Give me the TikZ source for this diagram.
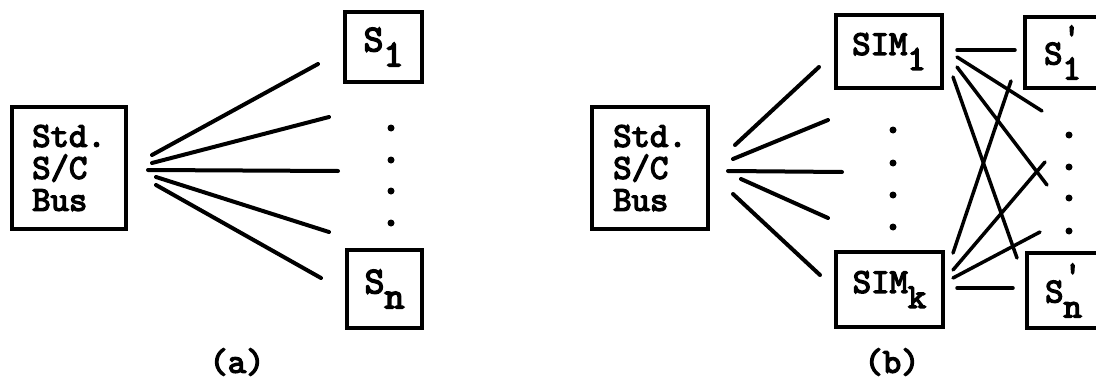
\documentclass[tikz,border=0pt]{standalone}
\usepackage{fontspec}
\newfontfamily\tw{lmmono10-regular.otf}[FakeBold=3.8]
\begin{document}
\begin{tikzpicture}[x=1pt,y=-1pt,
  tt/.style={font=\tw\fontsize{35}{32}\selectfont},
  box/.style={tt,draw,line width=3.2pt,inner sep=0pt},
  bigtt/.style={font=\tw\fontsize{38}{32}\selectfont},
  wire/.style={line width=4pt,line cap=round},
  dotc/.style={circle,fill,inner sep=0pt,minimum size=7pt}]
\useasboundingbox (0,0) rectangle (1096,380);
\clip (0,0) rectangle (1096,380);

% ---------- (a) ----------
\node[box,minimum width=114pt,minimum height=122pt,align=left] (busa) at (69,168) {Std.\\S/C\\Bus};
\node[box,bigtt,minimum width=77pt,minimum height=70pt] (s1a) at (383.5,47) {S\raisebox{-15pt}{1}};
\node[box,bigtt,minimum width=75pt,minimum height=78pt] (sna) at (384.5,289) {S\raisebox{-15pt}{n}};
\foreach \y [count=\i] in {128,160,191,223} \node[dotc] (da\i) at (391,\y) {};

\coordinate (a1s) at (152,155); \coordinate (a1e) at (318,64);
\coordinate (a2s) at (152,163); \coordinate (a2e) at (329,117);
\coordinate (a3s) at (148,170); \coordinate (a3e) at (338,171);
\coordinate (a4s) at (156,177); \coordinate (a4e) at (329,232);
\coordinate (a5s) at (156,185); \coordinate (a5e) at (321,278);
\foreach \i in {1,...,5} \draw[wire] (a\i s) -- (a\i e);

\node[tt] (la) at (237,362) {(a)};

% ---------- (b) ----------
\node[box,minimum width=116pt,minimum height=122pt,align=left] (busb) at (650,168) {Std.\\S/C\\Bus};
\node[box,minimum width=106pt,minimum height=73pt] (sim1) at (889,51.5) {SIM\raisebox{-15pt}{1}};
\node[box,minimum width=107pt,minimum height=75pt] (simk) at (889.5,289.5) {SIM\raisebox{-15pt}{k}};
\node[box,minimum width=75pt,minimum height=71pt] (s1b) at (1062.5,52.5) {S\rlap{\raisebox{17pt}{'}}\raisebox{-15pt}{1}};
\node[box,minimum width=73pt,minimum height=75pt] (snb) at (1063.5,290.5) {S\rlap{\raisebox{17pt}{'}}\raisebox{-15pt}{n}};
\foreach \y [count=\i] in {130,163,195,227} \node[dotc] (dm\i) at (893,\y) {};
\foreach \y [count=\i] in {135,167,198,231} \node[dotc] (dr\i) at (1069,\y) {};

\coordinate (b1s) at (735,145); \coordinate (b1e) at (819,67);
\coordinate (b2s) at (733,159); \coordinate (b2e) at (828,120);
\coordinate (b3s) at (728,171); \coordinate (b3e) at (842,172);
\coordinate (b4s) at (741,179); \coordinate (b4e) at (828,218);
\coordinate (b5s) at (733,194); \coordinate (b5e) at (820,275);
\foreach \i in {1,...,5} \draw[wire] (b\i s) -- (b\i e);

\coordinate (h1s) at (957,50);  \coordinate (h1e) at (1015,50);
\coordinate (d1s) at (957,57);  \coordinate (d1e) at (1042,111);
\coordinate (d2s) at (957,67);  \coordinate (d2e) at (1047,185);
\coordinate (d3s) at (953,77);  \coordinate (d3e) at (1017,258);
\coordinate (u1s) at (953,253); \coordinate (u1e) at (1011,81);
\coordinate (u2s) at (953,270); \coordinate (u2e) at (1045,162);
\coordinate (u3s) at (953,278); \coordinate (u3e) at (1040,232);
\coordinate (h2s) at (957,288); \coordinate (h2e) at (1013,288);
\foreach \n in {h1,d1,d2,d3,u1,u2,u3,h2} \draw[wire,line width=3.5pt] (\n s) -- (\n e);

\node[tt] (lb) at (892,362) {(b)};
\end{tikzpicture}
\end{document}
